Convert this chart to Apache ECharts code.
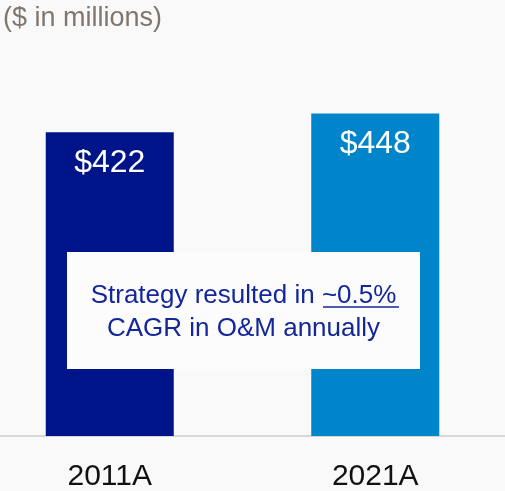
<!DOCTYPE html>
<html>
<head>
<meta charset="utf-8">
<script src="https://cdn.jsdelivr.net/npm/echarts@6/dist/echarts.min.js"></script>
<style>
html,body{margin:0;padding:0;background:#f9f9f9;}
#c{width:505px;height:491px;}
</style>
</head>
<body>
<div id="c"></div>
<script>
var categories = ['2011A', '2021A'];
var values = [422, 448];
var barColors = ['#001489', '#0085ca'];
var unitNote = '($ in millions)';
var noteLine1 = 'Strategy resulted in ';
var noteHighlight = '~0.5%';
var noteLine2 = 'CAGR in O&M annually';

var chart = echarts.init(document.getElementById('c'), null, {renderer: 'canvas'});
var FONT = 'Liberation Sans';
var NOTE = '#14279a';
chart.setOption({
  backgroundColor: '#f9f9f9',
  animation: false,
  title: {
    text: unitNote,
    left: -2, top: 0,
    textStyle: {fontFamily: FONT, fontSize: 27, fontWeight: 'normal', color: '#81766e'}
  },
  grid: {left: -23, width: 531, top: 76, bottom: 55, containLabel: false, outerBoundsMode: 'none'},
  xAxis: {
    type: 'category',
    data: categories,
    axisLine: {show: true, lineStyle: {color: '#d6d6d6', width: 2}},
    axisTick: {show: false},
    axisLabel: {fontFamily: FONT, fontSize: 30, color: '#111111', margin: 26}
  },
  yAxis: {
    type: 'value', min: 0, max: 500,
    show: false, splitLine: {show: false}
  },
  series: [{
    type: 'bar',
    barWidth: 128,
    data: values.map(function (v, i) { return {value: v, itemStyle: {color: barColors[i]}}; }),
    label: {
      show: true, position: 'insideTop', distance: 15,
      formatter: function (p) { return '$' + p.value; },
      fontFamily: FONT, fontSize: 32, color: '#ffffff'
    }
  }],
  graphic: [
    {type: 'rect', shape: {x: 67, y: 252, width: 353, height: 117}, style: {fill: '#fcfcfc'}, z: 10},
    {
      type: 'text', x: 243.5, y: 312, z: 11,
      style: {
        text: '{a|' + noteLine1 + '}{a|' + noteHighlight + '}\n{a|' + noteLine2 + '}',
        align: 'center', verticalAlign: 'middle', fill: NOTE,
        rich: {a: {fontFamily: FONT, fontSize: 26, fill: NOTE, color: NOTE, lineHeight: 33}}
      }
    },
    {type: 'line', shape: {x1: 323, y1: 307, x2: 399, y2: 307}, style: {stroke: NOTE, lineWidth: 1.5}, z: 11}
  ]
});
</script>
</body>
</html>
